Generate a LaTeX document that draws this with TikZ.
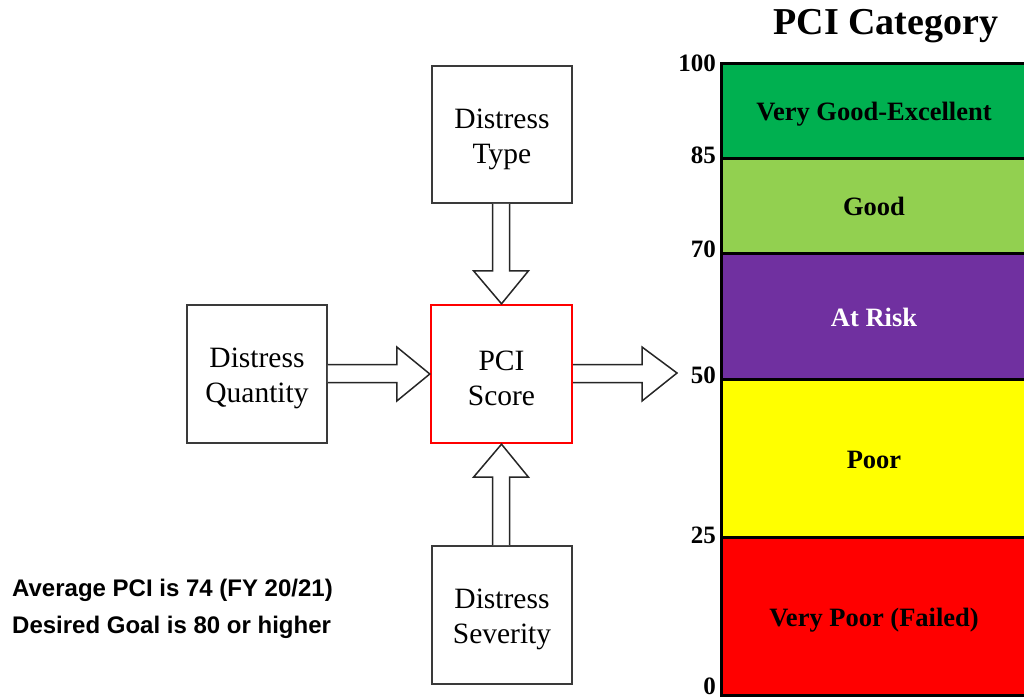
\documentclass[tikz,border=0pt]{standalone}
\usepackage{fontspec}
\setmainfont{Liberation Serif}
\newfontfamily\arialfont{Liberation Sans}
\usetikzlibrary{calc}
\definecolor{cgreen}{HTML}{00B050}
\definecolor{clgreen}{HTML}{92D050}
\definecolor{cpurple}{HTML}{7030A0}
\definecolor{cyellow}{HTML}{FFFF00}
\definecolor{cred}{HTML}{FF0000}
\definecolor{boxgray}{HTML}{3A3A3A}
\begin{document}
\begin{tikzpicture}[x=1pt,y=-1pt,
  inputbox/.style={draw=boxgray, line width=1.8pt, fill=white, inner sep=0pt,
    minimum width=140pt, minimum height=138pt},
  pcibox/.style={inputbox, draw=red, line width=2.4pt, minimum width=141pt},
  boxtext/.style={inner sep=0pt, align=center, font=\fontsize{29.5}{35}\selectfont},
  blockarrow/.style={draw=black!85, line width=1.5pt, fill=white, line join=miter},
  seg/.style={draw=black, line width=3pt, minimum width=306pt, inner sep=0pt,
    text height=20pt, text depth=0pt,
    font=\fontsize{26.5}{30}\selectfont\bfseries},
  scalenum/.style={anchor=east, inner sep=0pt, font=\fontsize{25}{30}\selectfont\bfseries},
  note/.style={anchor=base west, inner sep=0pt, font=\arialfont\bfseries\fontsize{24}{28}\selectfont}
]
\useasboundingbox (0,0) rectangle (1024,698);

% input boxes
\node[inputbox, minimum height=137pt] (type) at (502,134.5) {};
\node[pcibox] (pci) at (501.5,374) {};
\node[inputbox] (qty) at (257,374) {};
\node[inputbox] (sev) at (502,615) {};
\node[boxtext] (typetxt) at ($(type.center)+(0,4.5)$) {Distress\\Type};
\node[boxtext] (pcitxt) at ($(pci.center)+(0,4)$) {PCI\\Score};
\node[boxtext] (qtytxt) at ($(qty.center)+(0,4.5)$) {Distress\\Quantity};
\node[boxtext] (sevtxt) at ($(sev.center)+(0,4.5)$) {Distress\\Severity};
\coordinate (tip50) at (677,373);

% block arrows
\draw[blockarrow] ($(type.south)+(-9.5,0)$) -- ($(pci.north)+(-9,-33)$) -- ($(pci.north)+(-28,-33)$)
  -- (pci.north) -- ($(pci.north)+(27,-33)$) -- ($(pci.north)+(8,-33)$) -- ($(type.south)+(7.5,0)$);
\draw[blockarrow] ($(sev.north)+(-9.5,0)$) -- ($(pci.south)+(-9,33)$) -- ($(pci.south)+(-28,33)$)
  -- (pci.south) -- ($(pci.south)+(27,33)$) -- ($(pci.south)+(8,33)$) -- ($(sev.north)+(7.5,0)$);
\draw[blockarrow] ($(qty.east)+(0,-9.5)$) -- ($(pci.west)+(-33,-9.5)$) -- ($(pci.west)+(-33,-27)$)
  -- (pci.west) -- ($(pci.west)+(-33,27)$) -- ($(pci.west)+(-33,8.5)$) -- ($(qty.east)+(0,8.5)$);
\draw[blockarrow] ($(pci.east)+(0,-9.5)$) -- ($(tip50)+(-35,-8.5)$) -- ($(tip50)+(-35,-26)$)
  -- (tip50) -- ($(tip50)+(-35,28)$) -- ($(tip50)+(-35,9.5)$) -- ($(pci.east)+(0,8.5)$);

% category bar
\node[seg, fill=cgreen, minimum height=94pt] (vg) at (874,111) {Very Good-Excellent};
\node[seg, fill=clgreen, minimum height=95pt] (good) at (874,205.5) {Good};
\node[seg, fill=cpurple, minimum height=126pt, text=white] (risk) at (874,316) {At Risk};
\node[seg, fill=cyellow, minimum height=158pt] (poor) at (874,458) {Poor};
\node[seg, fill=cred, minimum height=158pt] (vpoor) at (874,616) {Very Poor (Failed)};

% scale numbers
\node[scalenum] (n100) at (716,63) {100};
\node[scalenum] (n85) at (716,155) {85};
\node[scalenum] (n70) at (716,249) {70};
\node[scalenum] (n50) at (716,375) {50};
\node[scalenum] (n25) at (716,535) {25};
\node[scalenum] (n0) at (716,686) {0};

% title
\node[inner sep=0pt, font=\fontsize{38}{44}\selectfont\bfseries] (title) at (886,26) {PCI Category};

% notes
\node[note] (avg) at (12,596) {Average PCI is 74 (FY 20/21)};
\node[note] (goal) at (12,633) {Desired Goal is 80 or higher};
\end{tikzpicture}
\end{document}
